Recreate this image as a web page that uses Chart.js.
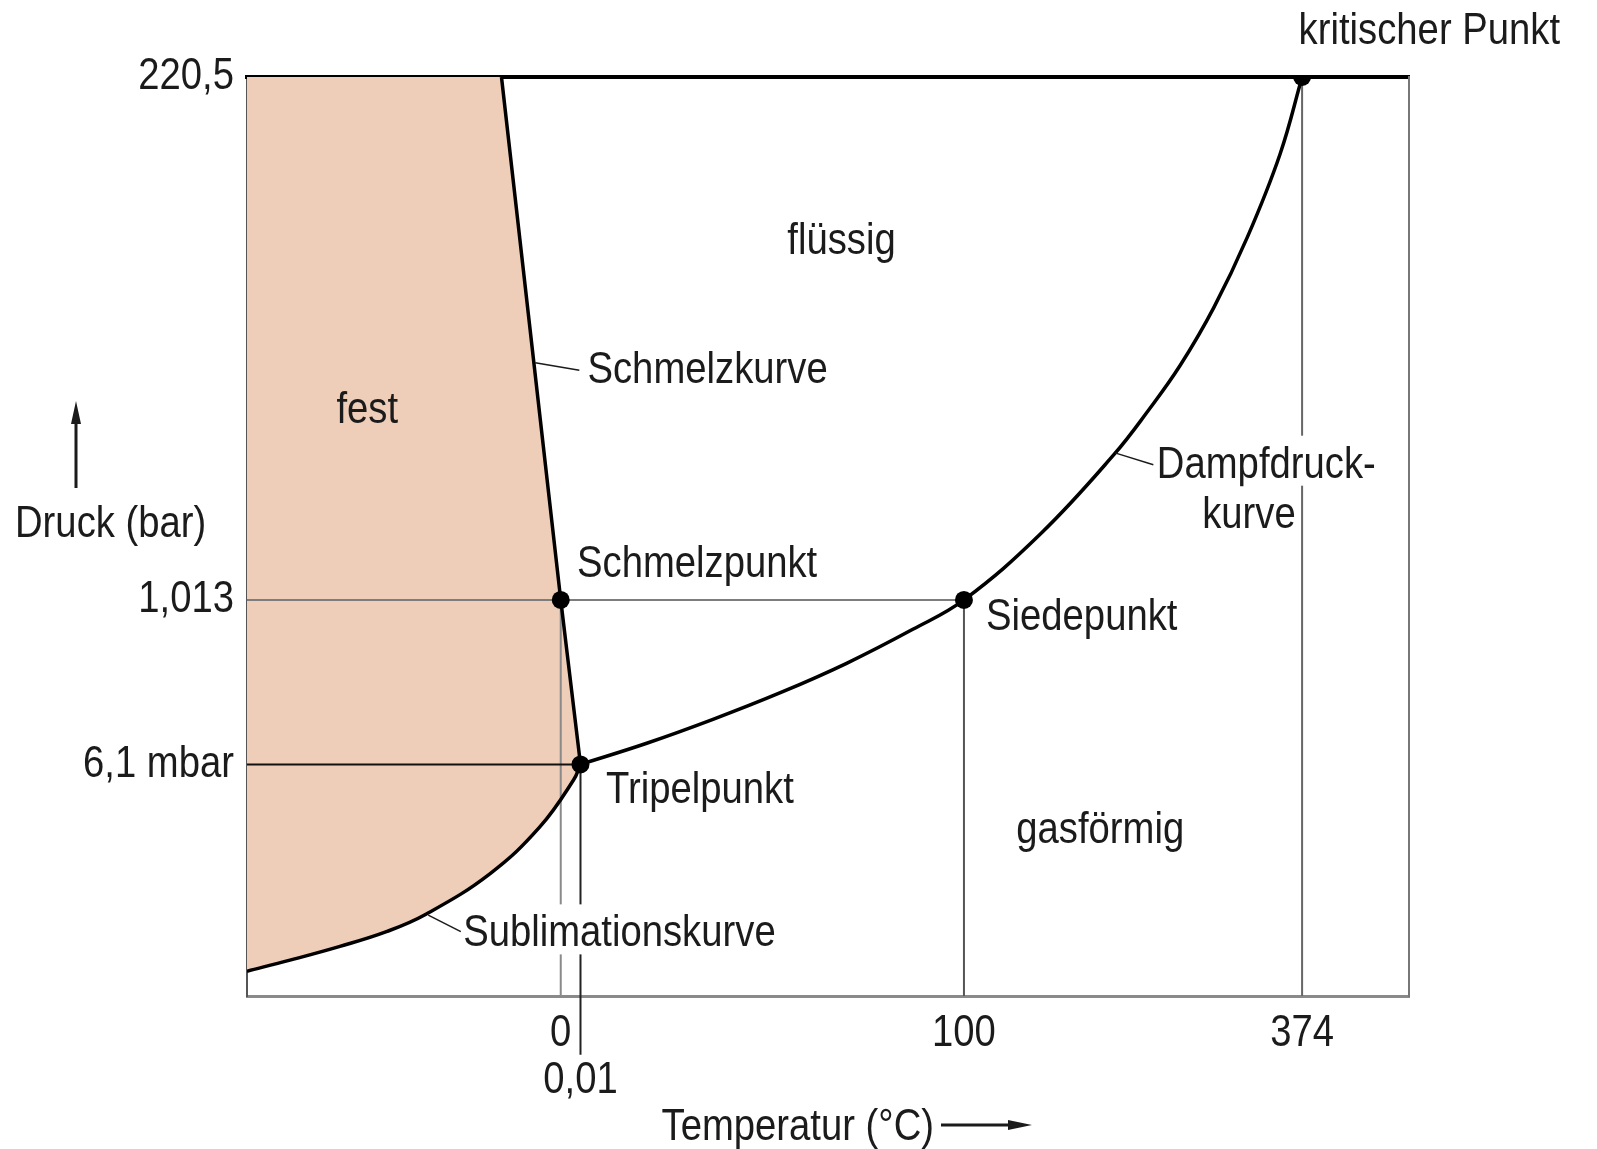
<!DOCTYPE html>
<html lang="de">
<head>
<meta charset="utf-8">
<title>Zustandsdiagramm Wasser</title>
<script src="https://cdn.jsdelivr.net/npm/chart.js@4.4.1/dist/chart.umd.min.js"></script>
<style>
  html, body { margin: 0; padding: 0; background: #fff; }
  canvas { display: block; }
</style>
</head>
<body>
<canvas id="phase" width="1597" height="1149"></canvas>
<script>
// Achsen sind schematisch (nicht massstaeblich): Lage 0..100 in beiden Richtungen
const tempLabels = ["0", "0,01", "100", "374"];
const tempPos = [27.0, 28.7, 61.7, 90.8];
const druckLabels = ["220,5", "1,013", "6,1 mbar"];
const druckPos = [100, 43.1, 25.2];

// Kurven
const schmelzX = [21.9, 27.0, 28.7];
const schmelzY = [100, 43.1, 25.2];
const sublX = [0, 3.7, 8.0, 12.0, 15.4, 20.9, 25.2, 28.1, 28.7];
const sublY = [2.7, 3.9, 5.4, 7.0, 8.9, 13.3, 18.4, 23.5, 25.2];
const dampfX = [28.7, 34.4, 40.1, 45.9, 51.6, 57.3, 61.7, 68.3, 74.6, 77.5, 80.3, 83.2, 86.1, 88.9, 90.8];
const dampfY = [25.2, 27.5, 30.1, 33.0, 36.2, 39.9, 43.1, 50.3, 58.9, 63.6, 68.6, 74.9, 82.6, 91.6, 100];

// markierte Punkte: kritischer Punkt, Siedepunkt, Schmelzpunkt, Tripelpunkt
const punktX = [90.8, 61.7, 27.0, 28.7];
const punktY = [100, 43.1, 43.1, 25.2];

const FONT = '"Liberation Sans", Arial, sans-serif';
const SCHMAL = 0.85; // Schrift schmal laufen lassen (Normschrift)
const INK = "#1b1b1b";
const FEST = "#eecdb9";

const canvas = document.getElementById("phase");
const ctx0 = canvas.getContext("2d");
const fillTextOrig = ctx0.fillText;
ctx0.fillText = function (text, x, y, maxWidth) {
  this.save();
  this.translate(x, y);
  this.scale(SCHMAL, 1);
  if (maxWidth === undefined) fillTextOrig.call(this, text, 0, 0);
  else fillTextOrig.call(this, text, 0, 0, maxWidth / SCHMAL);
  this.restore();
};

const xy = (xs, ys) => xs.map((x, i) => ({ x: x, y: ys[i] }));

// Flaeche "fest": oben links, rechts Schmelzkurve, unten Sublimationskurve
const festFlaeche = [{ x: 0, y: 100 }]
  .concat(xy(schmelzX, schmelzY))
  .concat(xy(sublX, sublY).reverse().slice(1));

function guide(pts, color, clip) {
  return {
    data: pts, borderColor: color, borderWidth: 2, pointRadius: 0,
    fill: false, tension: 0, order: 5, clip: clip === undefined ? true : clip
  };
}

// Texte im Diagramm (Lage in Achseneinheiten, linker Rand / Grundlinie)
const texte = [
  { t: "kritischer Punkt", x: 90.5, y: 103.6 },
  { t: "flüssig", x: 46.5, y: 80.7 },
  { t: "Schmelzkurve", x: 29.3, y: 66.7 },
  { t: "fest", x: 7.7, y: 62.3 },
  { t: "Dampfdruck-", x: 78.3, y: 56.4, bg: true },
  { t: "kurve", x: 82.2, y: 50.9, bg: true },
  { t: "Schmelzpunkt", x: 28.4, y: 45.6 },
  { t: "Siedepunkt", x: 63.6, y: 39.8 },
  { t: "Tripelpunkt", x: 30.9, y: 21.0 },
  { t: "gasförmig", x: 66.2, y: 16.6 },
  { t: "Sublimationskurve", x: 18.6, y: 5.4, bg: true }
];
// Hinweislinien von der Kurve zum Text
const hinweise = [
  [24.8, 68.9, 28.6, 68.1],
  [74.7, 59.1, 78.0, 57.8],
  [15.6, 8.8, 18.4, 7.0]
];

const beschriftung = {
  id: "beschriftung",
  afterDatasetsDraw(chart) {
    const { ctx, scales: { x, y } } = chart;
    ctx.save();
    ctx.font = "45px " + FONT;
    ctx.textBaseline = "alphabetic";
    ctx.textAlign = "left";
    texte.forEach(l => {
      const px = x.getPixelForValue(l.x), py = y.getPixelForValue(l.y);
      if (l.bg) {
        const w = ctx.measureText(l.t).width * SCHMAL;
        ctx.fillStyle = "#fff";
        ctx.fillRect(px - 4, py - 42, w + 8, 50);
      }
      ctx.fillStyle = INK;
      ctx.fillText(l.t, px, py);
    });
    ctx.strokeStyle = INK;
    ctx.lineWidth = 1.5;
    hinweise.forEach(h => {
      ctx.beginPath();
      ctx.moveTo(x.getPixelForValue(h[0]), y.getPixelForValue(h[1]));
      ctx.lineTo(x.getPixelForValue(h[2]), y.getPixelForValue(h[3]));
      ctx.stroke();
    });

    // Achsentitel mit Pfeilen
    ctx.fillStyle = INK;
    ctx.fillText("Druck (bar)", 15, 537);
    ctx.textAlign = "right";
    ctx.fillText("Temperatur (°C)", 934, 1140);
    ctx.lineWidth = 3;
    ctx.beginPath();
    ctx.moveTo(76, 488); ctx.lineTo(76, 420);
    ctx.moveTo(941, 1125); ctx.lineTo(1012, 1125);
    ctx.stroke();
    ctx.beginPath();
    ctx.moveTo(76, 401); ctx.lineTo(71, 424); ctx.lineTo(81, 424); ctx.closePath();
    ctx.moveTo(1032, 1125); ctx.lineTo(1008, 1120); ctx.lineTo(1008, 1130); ctx.closePath();
    ctx.fill();
    ctx.restore();
  }
};

const tickFont = { family: FONT, size: 45, lineHeight: 1.05 };

new Chart(canvas, {
  type: "line",
  data: {
    datasets: [
      {
        data: xy(punktX, punktY), showLine: false, pointRadius: 9,
        pointBackgroundColor: "#000", pointBorderWidth: 0, order: 0
      },
      { data: xy(schmelzX, schmelzY), borderColor: "#000", borderWidth: 3.5, tension: 0, order: 2, fill: false },
      { data: xy(sublX, sublY), borderColor: "#000", borderWidth: 3.5, tension: 0.4, order: 2, fill: false },
      { data: xy(dampfX, dampfY), borderColor: "#000", borderWidth: 3.5, tension: 0.4, order: 2, fill: false },
      guide([{ x: 0, y: druckPos[1] }, { x: tempPos[2], y: druckPos[1] }], "#7d7d7d"),
      guide([{ x: 0, y: druckPos[2] }, { x: tempPos[1], y: druckPos[2] }], "#111"),
      guide([{ x: tempPos[0], y: druckPos[1] }, { x: tempPos[0], y: 0 }], "#8a8a8a"),
      guide([{ x: tempPos[1], y: druckPos[2] }, { x: tempPos[1], y: -6.4 }], "#222", false),
      guide([{ x: tempPos[2], y: druckPos[1] }, { x: tempPos[2], y: 0 }], "#555"),
      guide([{ x: tempPos[3], y: druckPos[0] }, { x: tempPos[3], y: 0 }], "#666"),
      {
        data: festFlaeche, borderWidth: 0, pointRadius: 0, tension: 0,
        fill: "shape", backgroundColor: FEST, order: 10
      }
    ]
  },
  options: {
    responsive: false,
    animation: false,
    layout: { padding: { top: 77, right: 188, left: 0, bottom: 0 } },
    plugins: { legend: { display: false }, tooltip: { enabled: false } },
    elements: { point: { radius: 0 } },
    scales: {
      x: {
        type: "linear", position: "bottom", min: 0, max: 100,
        grid: { display: false, drawTicks: false },
        border: { display: true, color: "#8a8a8a", width: 3 },
        afterBuildTicks: s => { s.ticks = tempPos.map(v => ({ value: v })); },
        ticks: {
          autoSkip: false, maxRotation: 0, padding: 14, color: INK, font: tickFont,
          callback: (v, i) => (i === 1 ? ["", tempLabels[i]] : tempLabels[i])
        },
        afterFit: s => { s.height = 153; }
      },
      y: {
        type: "linear", position: "left", min: 0, max: 100,
        grid: { display: false, drawTicks: false },
        border: { display: true, color: "#555", width: 2 },
        afterBuildTicks: s => { s.ticks = druckPos.map(v => ({ value: v })); },
        ticks: {
          autoSkip: false, padding: 13, color: INK, font: tickFont,
          callback: (v, i) => druckLabels[i]
        },
        afterFit: s => { s.width = 247; }
      },
      xOben: {
        type: "linear", position: "top", min: 0, max: 100,
        grid: { display: false, drawTicks: false },
        ticks: { display: false },
        border: { display: true, color: "#000", width: 4 },
        afterFit: s => { s.height = 0; }
      },
      yRechts: {
        type: "linear", position: "right", min: 0, max: 100,
        grid: { display: false, drawTicks: false },
        ticks: { display: false },
        border: { display: true, color: "#777", width: 2 },
        afterFit: s => { s.width = 0; }
      }
    }
  },
  plugins: [beschriftung]
});
</script>
</body>
</html>
